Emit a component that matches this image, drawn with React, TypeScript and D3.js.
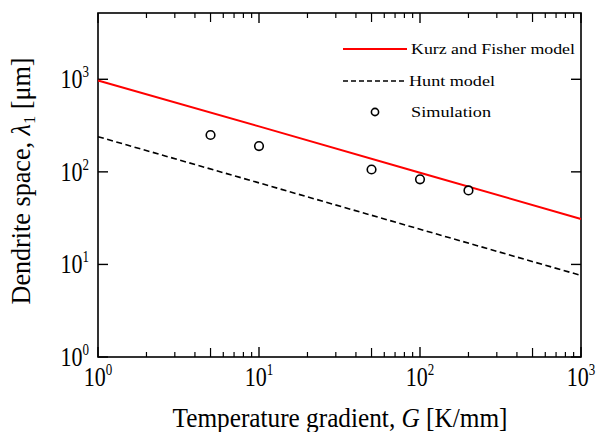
import React from "react";
import * as d3 from "d3";

const width = 597;
const height = 432;
const margin = { top: 13, right: 16, bottom: 75, left: 98 };

// Kurz and Fisher model (solid red), read at the decades
const kfG = [1, 10, 100, 1000];
const kfLambda = [970, 310, 98, 31];

// Hunt model (dashed black)
const huntG = [1, 10, 100, 1000];
const huntLambda = [240, 76, 24, 7.6];

// Simulation points
const simG = [5, 10, 50, 100, 200];
const simLambda = [250, 190, 106, 83, 63];

const xDecades = [1, 10, 100, 1000];
const xExponents = ["0", "1", "2", "3"];
const yDecades = [1, 10, 100, 1000];
const yExponents = ["0", "1", "2", "3"];
const minorSteps = [2, 3, 4, 5, 6, 7, 8, 9];

const legendItems = ["Kurz and Fisher model", "Hunt model", "Simulation"];

const font = "'Liberation Serif', 'Times New Roman', serif";
const stretch = 1.25; // the picture's text is a bit taller than wide

export default function App() {
  const x = d3
    .scaleLog()
    .domain([1, 1000])
    .range([margin.left, width - margin.right]);
  const y = d3
    .scaleLog()
    .domain([1, 5200])
    .range([height - margin.bottom, margin.top]);

  const [x0, x1] = x.range();
  const [y0, y1] = y.range();

  const line = d3
    .line<[number, number]>()
    .x(d => x(d[0]))
    .y(d => y(d[1]));

  const kfPath = line(kfG.map((g, i) => [g, kfLambda[i]]));
  const huntPath = line(huntG.map((g, i) => [g, huntLambda[i]]));

  // minor ticks along x, per decade
  const minorX: number[] = [];
  xDecades.slice(0, -1).forEach(d => minorSteps.forEach(s => minorX.push(d * s)));

  return (
    <svg
      width={width}
      height={height}
      style={{ position: "absolute", left: 0, top: 0, background: "#fff" }}
      fontFamily={font}
    >
      {/* frame */}
      <rect x={x0} y={y1} width={x1 - x0} height={y0 - y1} fill="none" stroke="#000" strokeWidth={1.6} />

      {/* x ticks, bottom and top, inward */}
      {xDecades.map(d => (
        <g key={"xm" + d}>
          <line x1={x(d)} x2={x(d)} y1={y0} y2={y0 - 10} stroke="#000" strokeWidth={1.4} />
          <line x1={x(d)} x2={x(d)} y1={y1} y2={y1 + 10} stroke="#000" strokeWidth={1.4} />
        </g>
      ))}
      {minorX.map(v => {
        const len = String(v)[0] === "5" ? 9 : 5;
        return (
          <g key={"xn" + v}>
            <line x1={x(v)} x2={x(v)} y1={y0} y2={y0 - len} stroke="#000" strokeWidth={1.2} />
            <line x1={x(v)} x2={x(v)} y1={y1} y2={y1 + len} stroke="#000" strokeWidth={1.2} />
          </g>
        );
      })}

      {/* y ticks, left and right, inward */}
      {yDecades.map(d => (
        <g key={"ym" + d}>
          <line x1={x0} x2={x0 + 10} y1={y(d)} y2={y(d)} stroke="#000" strokeWidth={1.4} />
          <line x1={x1} x2={x1 - 10} y1={y(d)} y2={y(d)} stroke="#000" strokeWidth={1.4} />
        </g>
      ))}

      {/* x tick labels */}
      {xDecades.map((d, i) => (
        <text
          key={"xl" + d}
          transform={`translate(${x(d)}, ${y0 + 29}) scale(1, ${stretch})`}
          textAnchor="middle"
          fontSize={22}
        >
          10<tspan fontSize={13} dy={-9}>{xExponents[i]}</tspan>
        </text>
      ))}

      {/* y tick labels */}
      {yDecades.map((d, i) => (
        <text
          key={"yl" + d}
          transform={`translate(${x0 - 9}, ${y(d) + 9}) scale(1, ${stretch})`}
          textAnchor="end"
          fontSize={22}
        >
          10<tspan fontSize={13} dy={-9}>{yExponents[i]}</tspan>
        </text>
      ))}

      {/* model lines */}
      <path d={kfPath || ""} fill="none" stroke="#ff0000" strokeWidth={2} />
      <path d={huntPath || ""} fill="none" stroke="#000" strokeWidth={1.6} strokeDasharray="6 3.5" />

      {/* simulation */}
      {simG.map((g, i) => (
        <circle key={"s" + g} cx={x(g)} cy={y(simLambda[i])} r={4.3} fill="#fff" stroke="#000" strokeWidth={1.6} />
      ))}

      {/* legend */}
      <g>
        <line x1={343} x2={407} y1={49} y2={49} stroke="#ff0000" strokeWidth={2} />
        <text x={411} y={54} fontSize={15} textLength={164} lengthAdjust="spacingAndGlyphs">
          {legendItems[0]}
        </text>
        <line x1={343} x2={407} y1={81} y2={81} stroke="#000" strokeWidth={1.4} strokeDasharray="5 3" />
        <text x={409} y={86} fontSize={15} textLength={86} lengthAdjust="spacingAndGlyphs">
          {legendItems[1]}
        </text>
        <circle cx={375} cy={112} r={3.6} fill="#fff" stroke="#000" strokeWidth={1.6} />
        <text x={411} y={117} fontSize={15} textLength={80} lengthAdjust="spacingAndGlyphs">
          {legendItems[2]}
        </text>
      </g>

      {/* axis titles */}
      <text
        transform={`translate(340, 427) scale(1, ${stretch})`}
        textAnchor="middle"
        fontSize={22}
        textLength={335}
        lengthAdjust="spacingAndGlyphs"
      >
        Temperature gradient, <tspan fontStyle="italic">G</tspan> [K/mm]
      </text>
      <text
        transform={`translate(30, 181) rotate(-90) scale(1, ${stretch})`}
        textAnchor="middle"
        fontSize={22}
        textLength={247}
        lengthAdjust="spacingAndGlyphs"
      >
        Dendrite space, <tspan fontStyle="italic">λ</tspan>
        <tspan fontSize={14} dy={4}>1</tspan>
        <tspan dy={-4}> [μm]</tspan>
      </text>
    </svg>
  );
}
